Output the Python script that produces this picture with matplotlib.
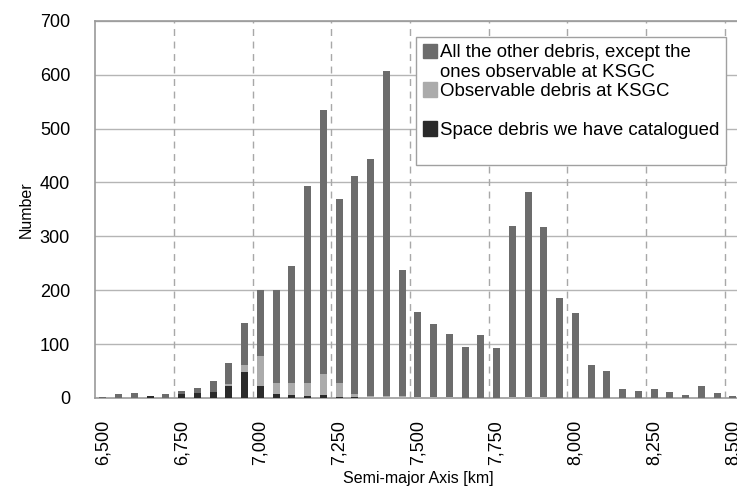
import matplotlib
matplotlib.use("Agg")
import matplotlib.pyplot as plt
from matplotlib.patches import Patch

plt.rcParams['font.family'] = ['Liberation Sans', 'DejaVu Sans']

# semi-major axis bins [km], 50 km wide
sma = list(range(6500, 8550, 50))

# counts per bin
catalogued = [0, 0, 0, 3, 0, 8, 9, 11, 22, 49,
              23, 7, 5, 4, 6, 2, 1, 0, 0, 0,
              0, 0, 0, 0, 0, 0, 0, 0, 0, 0,
              0, 0, 0, 0, 0, 0, 0, 0, 0, 0, 0]
observable = [0, 0, 0, 0, 0, 0, 0, 0, 4, 12,
              54, 20, 22, 23, 39, 25, 6, 3, 3, 3,
              2, 2, 1, 0, 0, 0, 2, 2, 2, 0,
              0, 0, 0, 0, 0, 0, 0, 0, 0, 0, 0]
other = [1, 7, 10, 0, 8, 5, 9, 20, 38, 79,
         123, 173, 218, 366, 490, 343, 405, 440, 604, 235,
         158, 135, 118, 95, 116, 93, 317, 380, 315, 185,
         158, 62, 50, 16, 13, 16, 12, 6, 22, 10, 4]

yticks = [0, 100, 200, 300, 400, 500, 600, 700]
xticks = [6500, 6750, 7000, 7250, 7500, 7750, 8000, 8250, 8500]

c_other = '#6c6c6c'
c_obs = '#ababab'
c_cat = '#2a2a2a'

fig = plt.figure(figsize=(7.37, 4.95), dpi=100)
ax = fig.add_axes([0.129, 0.196, 0.876, 0.762])

w = 22
bottom2 = [a + b for a, b in zip(catalogued, observable)]
ax.bar(sma, catalogued, width=w, color=c_cat, zorder=3)
ax.bar(sma, observable, width=w, bottom=catalogued, color=c_obs, zorder=3)
ax.bar(sma, other, width=w, bottom=bottom2, color=c_other, zorder=3)

ax.set_xlim(6475, 8525)
ax.set_ylim(0, 700)
ax.set_yticks(yticks)
ax.set_xticks(xticks)
ax.set_xticklabels(['{:,}'.format(v) for v in xticks], rotation=90)
ax.tick_params(axis='both', length=0, labelsize=13, colors='black')
ax.tick_params(axis='y', pad=18)
ax.tick_params(axis='x', pad=16)

# grid: solid horizontal, dashed vertical every 5 bins (between categories)
for y in yticks[1:]:
    ax.axhline(y, color='#b5b5b5', lw=1, zorder=1)
for x in range(6725, 8525, 250):
    ax.axvline(x, color='#a8a8a8', lw=1, ls=(0, (5, 4)), zorder=1)

for s in ax.spines.values():
    s.set_color('#9a9a9a')
    s.set_linewidth(1.2)

ax.set_xlabel('Semi-major Axis [km]', fontsize=11.5, labelpad=4)
ax.set_ylabel('Number', fontsize=11.5, labelpad=4)

blank = Patch(facecolor='none', edgecolor='none')
handles = [Patch(color=c_other), blank, Patch(color=c_obs), blank,
           Patch(color=c_cat), blank]
labels = ['All the other debris, except the', 'ones observable at KSGC',
          'Observable debris at KSGC', ' ', 'Space debris we have catalogued', ' ']
leg = ax.legend(handles, labels, loc='upper left',
                bbox_to_anchor=(416 / 737, 1 - 37 / 495),
                bbox_transform=fig.transFigure, borderaxespad=0, fontsize=13.4,
                handlelength=0.8, handleheight=0.8, handletextpad=0.12,
                labelspacing=0.1, borderpad=0.35, fancybox=False,
                framealpha=1, edgecolor='#a0a0a0')
leg.get_frame().set_linewidth(1)
leg.set_zorder(5)

fig.savefig('out.png', dpi=100)
